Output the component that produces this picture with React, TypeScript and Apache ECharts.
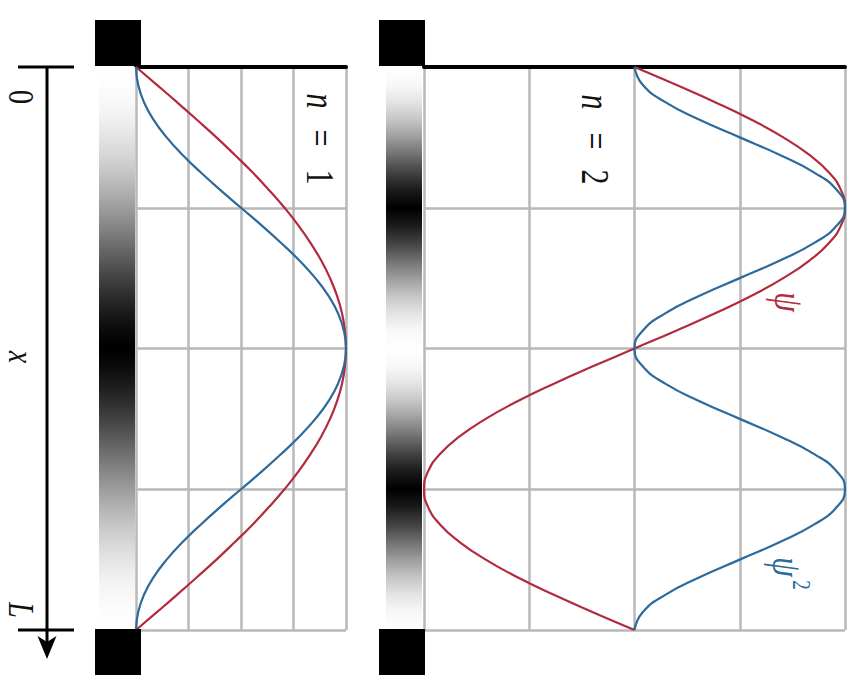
import React, { useEffect, useRef } from "react";
import * as echarts from "echarts";

// Position along the box, in steps of L/32 (0 = left wall, 32 = right wall L)
const POS = [
  0, 1, 2, 3, 4, 5, 6, 7, 8, 9, 10, 11, 12, 13, 14, 15, 16,
  17, 18, 19, 20, 21, 22, 23, 24, 25, 26, 27, 28, 29, 30, 31, 32,
];
const POS_MAX = 32;
const POS_TICK = 8;

// Ground state n = 1
const PSI_N1 = [
  0, 0.098, 0.195, 0.29, 0.383, 0.471, 0.556, 0.634, 0.707, 0.773, 0.831, 0.882, 0.924, 0.957, 0.981, 0.995, 1,
  0.995, 0.981, 0.957, 0.924, 0.882, 0.831, 0.773, 0.707, 0.634, 0.556, 0.471, 0.383, 0.29, 0.195, 0.098, 0,
];
const PSI2_N1 = [
  0, 0.01, 0.038, 0.084, 0.146, 0.222, 0.309, 0.402, 0.5, 0.598, 0.691, 0.778, 0.854, 0.916, 0.962, 0.99, 1,
  0.99, 0.962, 0.916, 0.854, 0.778, 0.691, 0.598, 0.5, 0.402, 0.309, 0.222, 0.146, 0.084, 0.038, 0.01, 0,
];

// First excited state n = 2
const PSI_N2 = [
  0, 0.195, 0.383, 0.556, 0.707, 0.831, 0.924, 0.981, 1, 0.981, 0.924, 0.831, 0.707, 0.556, 0.383, 0.195, 0,
  -0.195, -0.383, -0.556, -0.707, -0.831, -0.924, -0.981, -1, -0.981, -0.924, -0.831, -0.707, -0.556, -0.383, -0.195, 0,
];
const PSI2_N2 = [
  0, 0.038, 0.146, 0.309, 0.5, 0.691, 0.854, 0.962, 1, 0.962, 0.854, 0.691, 0.5, 0.309, 0.146, 0.038, 0,
  0.038, 0.146, 0.309, 0.5, 0.691, 0.854, 0.962, 1, 0.962, 0.854, 0.691, 0.5, 0.309, 0.146, 0.038, 0,
];

const RED = "#b32a3e";
const BLUE = "#2c6a9c";
const GRID_GRAY = "#b9b9b9";
const SERIF = "'Liberation Serif', 'DejaVu Serif', serif";

const pairs = (vals: number[]) => vals.map((v, i) => [v, POS[i]]);

// grey level of the density strip: white where |psi|^2 = 0, black at its maximum
const densityStops = (dens: number[]) =>
  dens.map((d, i) => {
    const g = Math.round(255 * Math.pow(1 - d, 0.7));
    return { offset: POS[i] / POS_MAX, color: `rgb(${g},${g},${g})` };
  });

const curve = (data: number[][], color: string, idx: number) => ({
  type: "line",
  xAxisIndex: idx,
  yAxisIndex: idx,
  data,
  showSymbol: false,
  smooth: 0.5,
  lineStyle: { color, width: 2.2 },
  z: 3,
});

const valueAxisX = (idx: number, min: number, max: number, interval: number) => ({
  gridIndex: idx,
  type: "value",
  position: "top",
  min,
  max,
  interval,
  axisLine: { show: true, onZero: false, lineStyle: { color: "#000", width: 4 } },
  axisTick: { show: false },
  axisLabel: { show: false },
  splitLine: { show: true, lineStyle: { color: GRID_GRAY, width: 2.5 } },
  z: 1,
});

const posAxisY = (idx: number) => ({
  gridIndex: idx,
  type: "value",
  inverse: true,
  min: 0,
  max: POS_MAX,
  interval: POS_TICK,
  axisLine: { show: false },
  axisTick: { show: false },
  axisLabel: { show: false },
  splitLine: { show: true, lineStyle: { color: GRID_GRAY, width: 2.5 } },
});

const rotText = (
  text: string,
  x: number,
  y: number,
  opts: { italic?: boolean; size?: number; color?: string } = {}
) => ({
  type: "text",
  x,
  y,
  rotation: -Math.PI / 2,
  scaleY: 1.3,
  z: 10,
  style: {
    text,
    fontFamily: SERIF,
    fontStyle: opts.italic ? "italic" : "normal",
    fontSize: opts.size ?? 28,
    fill: opts.color ?? "#111",
    align: "center",
    verticalAlign: "middle",
  },
});

export default function App() {
  const ref = useRef<HTMLDivElement>(null);

  useEffect(() => {
    if (!ref.current) return;
    const chart = echarts.init(ref.current, null, { renderer: "svg" });

    chart.setOption({
      animation: false,
      backgroundColor: "#ffffff",
      grid: [
        { left: 136, top: 67, width: 210, height: 563 },
        { left: 424, top: 67, width: 421, height: 563 },
      ],
      xAxis: [valueAxisX(0, 0, 1, 0.25), valueAxisX(1, -1, 1, 0.5)],
      yAxis: [posAxisY(0), posAxisY(1)],
      series: [
        curve(pairs(PSI_N1), RED, 0),
        curve(pairs(PSI2_N1), BLUE, 0),
        curve(pairs(PSI_N2), RED, 1),
        curve(pairs(PSI2_N2), BLUE, 1),
      ],
    });

    const yTop = chart.convertToPixel({ yAxisIndex: 0 }, 0) as number;
    const yBot = chart.convertToPixel({ yAxisIndex: 0 }, POS_MAX) as number;
    const g1Left = chart.convertToPixel({ xAxisIndex: 0 }, 0) as number;
    const g2Left = chart.convertToPixel({ xAxisIndex: 1 }, -1) as number;
    const axisX = 47;

    const strip = (right: number, dens: number[]) => ({
      type: "rect",
      shape: { x: right - 36, y: yTop, width: 36, height: yBot - yTop },
      style: { fill: new echarts.graphic.LinearGradient(0, 0, 0, 1, densityStops(dens)) },
      z: 2,
    });
    const wall = (right: number, y: number) => ({
      type: "rect",
      shape: { x: right - 46, y, width: 46, height: 46 },
      style: { fill: "#000" },
      z: 5,
    });

    chart.setOption({
      graphic: [
        // density strips beside each panel
        strip(g1Left - 1, PSI2_N1),
        strip(g2Left - 2, PSI2_N2),
        // infinite walls of the box
        wall(g1Left + 5, yTop - 47),
        wall(g1Left + 5, yBot - 1),
        wall(g2Left + 1, yTop - 47),
        wall(g2Left + 1, yBot - 1),
        // position axis with arrow
        {
          type: "line",
          shape: { x1: axisX, y1: yTop, x2: axisX, y2: yBot + 12 },
          style: { stroke: "#000", lineWidth: 3 },
          z: 5,
        },
        {
          type: "line",
          shape: { x1: 18, y1: yTop, x2: 74, y2: yTop },
          style: { stroke: "#000", lineWidth: 3 },
          z: 5,
        },
        {
          type: "line",
          shape: { x1: 18, y1: yBot, x2: 74, y2: yBot },
          style: { stroke: "#000", lineWidth: 3 },
          z: 5,
        },
        {
          type: "polygon",
          shape: {
            points: [
              [axisX - 9.5, yBot + 6],
              [axisX, yBot + 12],
              [axisX + 9.5, yBot + 6],
              [axisX, yBot + 29],
            ],
          },
          style: { fill: "#000" },
          z: 5,
        },
        rotText("0", 21, 97),
        rotText("x", 21, 357, { italic: true }),
        rotText("L", 21, 610, { italic: true }),
        // state labels
        rotText("n", 320, 101, { italic: true, size: 30 }),
        rotText("=", 320, 138, { size: 30 }),
        rotText("1", 320, 177, { size: 30 }),
        rotText("n", 595, 102, { italic: true, size: 30 }),
        rotText("=", 595, 141, { size: 30 }),
        rotText("2", 595, 177, { size: 30 }),
        // curve labels
        rotText("ψ", 789, 302, { italic: true, size: 32, color: RED }),
        rotText("ψ", 787, 567, { italic: true, size: 32, color: BLUE }),
        rotText("2", 801, 585, { size: 19, color: BLUE }),
      ],
    });

    return () => chart.dispose();
  }, []);

  return (
    <div
      ref={ref}
      style={{ position: "absolute", left: 0, top: 0, width: 851, height: 675, background: "#fff" }}
    />
  );
}
